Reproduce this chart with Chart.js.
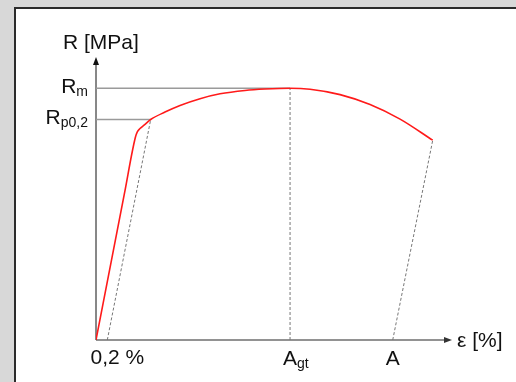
<!DOCTYPE html>
<html>
<head>
<meta charset="utf-8">
<script src="https://cdn.jsdelivr.net/npm/chart.js@4/dist/chart.umd.min.js"></script>
<style>
    html, body { margin: 0; padding: 0; background: #d8d8d8; overflow: hidden; }
    .panel {
        position: absolute; left: 14px; top: 7px; width: 520px; height: 400px;
        background: #fff; border: 2px solid #2b2b2b;
    }
    .wrap { position: absolute; left: 0; top: 0; width: 516px; height: 382px; }
</style>
</head>
<body>
<div class="panel"></div>
<div class="wrap"><canvas id="chart" width="516" height="382"></canvas></div>
<script>
// stress-strain curve, strain in %, stress in MPa
const curveStrain = [0, 0.5, 0.696, 0.731, 0.779, 0.85, 0.968, 1.221, 1.487, 1.841, 2.195, 2.637, 2.991, 3.434, 3.788, 4.319, 4.85, 5.381, 5.959];
const curveStress = [0, 289, 402.2, 413.3, 420, 426.6, 437.9, 452.6, 465.7, 479.2, 488.9, 495.6, 498.4, 500, 498, 487.3, 467.7, 438.7, 396.8];

const offsetStrain = 0.2;   // 0,2 %
const rpStrain = 0.968;
const rpStress = 437.9;     // Rp0,2
const rmStress = 500;       // Rm
const agtStrain = 3.434;    // Agt
const aStrain = 5.251;      // A
const breakStrain = 5.959;
const breakStress = 396.8;

const xMax = 6.3;
const yMax = 562;

const xTickValues = [offsetStrain, agtStrain, aStrain];
const xTickLabels = [['0,2 %', ''], ['A', 'gt'], ['A', '']];
const yTickValues = [rpStress, rmStress];
const yTickLabels = [['R', 'p0,2'], ['R', 'm']];

const pts = (xs, ys) => xs.map((x, i) => ({ x, y: ys[i] }));

const FONT = '"Liberation Sans", Arial, sans-serif';

function drawSub(ctx, main, sub, x, y, align) {
    ctx.font = `21px ${FONT}`;
    const w1 = ctx.measureText(main).width;
    ctx.font = `14px ${FONT}`;
    const w2 = sub ? ctx.measureText(sub).width : 0;
    let left = x;
    if (align === 'right') left = x - w1 - w2;
    if (align === 'center') left = x - w1 / 2;
    if (align === 'mid') left = x - (w1 + w2) / 2;
    ctx.textAlign = 'left';
    ctx.textBaseline = 'alphabetic';
    ctx.font = `21px ${FONT}`;
    ctx.fillText(main, left, y);
    if (sub) {
        ctx.font = `14px ${FONT}`;
        ctx.fillText(sub, left + w1, y + 3);
    }
}

const axesPlugin = {
    id: 'axesPlugin',
    beforeDatasetsDraw(chart) {
        const { ctx, scales: { x, y } } = chart;
        const x0 = x.getPixelForValue(0), x1 = x.getPixelForValue(xMax);
        const y0 = y.getPixelForValue(0), y1 = y.getPixelForValue(yMax);
        ctx.save();
        // x axis
        ctx.strokeStyle = '#6e6e6e';
        ctx.lineWidth = 1.5;
        ctx.beginPath();
        ctx.moveTo(x0, y0);
        ctx.lineTo(x1 - 6, y0);
        ctx.stroke();
        ctx.fillStyle = '#333';
        ctx.beginPath();
        ctx.moveTo(x1, y0);
        ctx.lineTo(x1 - 8, y0 - 3);
        ctx.lineTo(x1 - 8, y0 + 3);
        ctx.closePath();
        ctx.fill();
        // y axis
        ctx.strokeStyle = '#111';
        ctx.lineWidth = 1;
        ctx.beginPath();
        ctx.moveTo(x0, y0);
        ctx.lineTo(x0, y1 + 6);
        ctx.stroke();
        ctx.fillStyle = '#111';
        ctx.beginPath();
        ctx.moveTo(x0, y1);
        ctx.lineTo(x0 - 3, y1 + 8);
        ctx.lineTo(x0 + 3, y1 + 8);
        ctx.closePath();
        ctx.fill();
        ctx.restore();
    },
    afterDraw(chart) {
        const { ctx, scales: { x, y } } = chart;
        const x0 = x.getPixelForValue(0), x1 = x.getPixelForValue(xMax);
        const y0 = y.getPixelForValue(0), y1 = y.getPixelForValue(yMax);
        ctx.save();
        ctx.fillStyle = '#111';
        drawSub(ctx, 'R [MPa]', '', x0 - 33, y1 - 8, 'left');
        drawSub(ctx, 'ε [%]', '', x1 + 5, y0 + 7, 'left');
        xTickValues.forEach((v, i) => {
            const [m, s] = xTickLabels[i];
            const px = x.getPixelForValue(v);
            if (i === 0) drawSub(ctx, m, s, px + 10, y0 + 24, 'mid');
            else drawSub(ctx, m, s, px, y0 + 25, 'center');
        });
        yTickValues.forEach((v, i) => {
            const [m, s] = yTickLabels[i];
            drawSub(ctx, m, s, x0 - 8, y.getPixelForValue(v) + 4.5, 'right');
        });
        ctx.restore();
    }
};

const dashed = { borderColor: '#777', borderWidth: 1, borderDash: [3, 2] };
const solidGray = { borderColor: '#9a9a9a', borderWidth: 1.5 };

new Chart(document.getElementById('chart'), {
    type: 'scatter',
    data: {
        datasets: [
            {
                data: pts(curveStrain, curveStress),
                borderColor: '#ff1a1a',
                borderWidth: 1.6,
                cubicInterpolationMode: 'monotone',
            },
            { data: [{ x: 0, y: rmStress }, { x: agtStrain, y: rmStress }], ...solidGray },
            { data: [{ x: 0, y: rpStress }, { x: rpStrain, y: rpStress }], ...solidGray },
            { data: [{ x: offsetStrain, y: 0 }, { x: rpStrain, y: rpStress }], ...dashed },
            { data: [{ x: agtStrain, y: 0 }, { x: agtStrain, y: rmStress }], ...dashed },
            { data: [{ x: aStrain, y: 0 }, { x: breakStrain, y: breakStress }], ...dashed },
        ].map(ds => ({ showLine: true, pointRadius: 0, fill: false, ...ds })),
    },
    options: {
        responsive: false,
        animation: false,
        events: [],
        layout: { padding: { left: 96, right: 64, top: 57, bottom: 42 } },
        plugins: { legend: { display: false }, tooltip: { enabled: false } },
        scales: {
            x: { type: 'linear', min: 0, max: xMax, display: false },
            y: { type: 'linear', min: 0, max: yMax, display: false },
        },
    },
    plugins: [axesPlugin],
});
</script>
</body>
</html>
